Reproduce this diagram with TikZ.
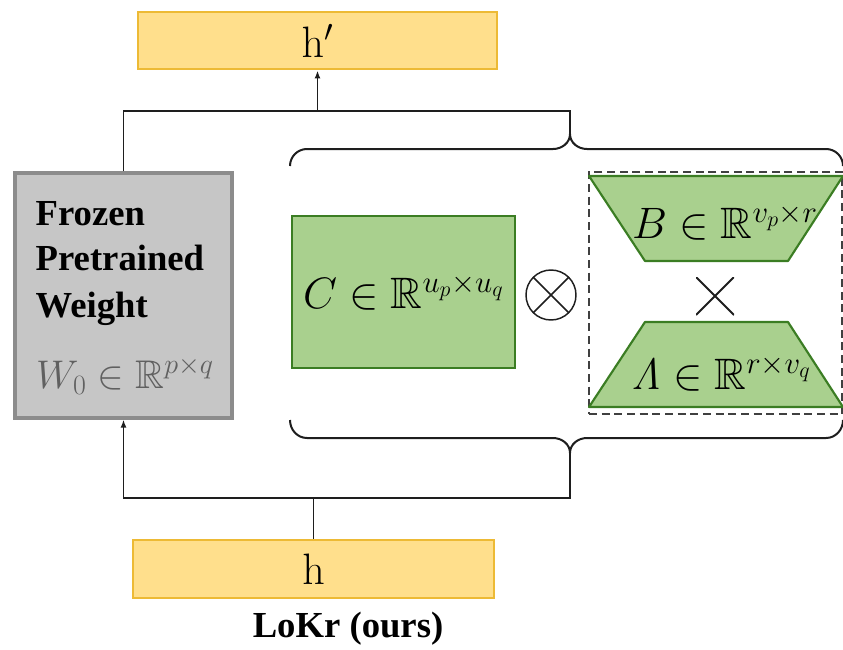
\RequirePackage{fix-cm}
\documentclass[tikz,border=0pt]{standalone}
\usepackage{amsmath,amssymb}
\usepackage[no-math]{fontspec}
\newfontfamily\timesfont{Liberation Serif}
\usetikzlibrary{arrows.meta,fit}

\definecolor{ybFill}{HTML}{FFDF8C}
\definecolor{ybEdge}{HTML}{EDBA35}
\definecolor{grFill}{HTML}{C6C6C6}
\definecolor{grEdge}{HTML}{8C8C8C}
\definecolor{gnFill}{HTML}{A9D08E}
\definecolor{gnEdge}{HTML}{3B7D23}
\definecolor{wire}{HTML}{1E1E1E}
\definecolor{dimtext}{HTML}{606060}

\begin{document}
\begin{tikzpicture}[x=0.75pt,y=-0.75pt,
  mathtxt/.style={font=\fontsize{33}{40}\selectfont},
  boldtxt/.style={font=\timesfont\bfseries\fontsize{27.5}{34}\selectfont},
  yellowbox/.style={draw=ybEdge, fill=ybFill, line width=2.2pt, inner sep=0pt},
  greybox/.style={draw=grEdge, fill=grFill, line width=2.4pt, inner sep=0pt},
  greenbox/.style={draw=gnEdge, fill=gnFill, line width=1.6pt, inner sep=0pt},
  dashbox/.style={draw=wire!85, line width=1.4pt, dash pattern=on 6pt off 3.5pt, inner sep=0pt},
  link/.style={draw=wire, line width=1.4pt},
  tip/.style={-{Latex[length=6pt,width=4.5pt]}},
  bracket/.style={draw=wire, line width=1.5pt},
]
\useasboundingbox (0,0) rectangle (843,650);

% input / output vectors
\node[yellowbox, fit={(138,12) (497,69)}] (hout) {};
\node[mathtxt] (houtText) at (hout.center) {$\mathrm{h}'$};
\node[yellowbox, fit={(133,540) (494,598)}] (hin) {};
\node[mathtxt] (hinText) at (hin.center) {$\mathrm{h}$};
\node[boldtxt, anchor=base] (caption) at (348,637) {LoKr (ours)};

% frozen weight block
\node[greybox, fit={(15,173) (232,418)}] (frozen) {};
\node[boldtxt, anchor=base west] (frozenA) at (31,225) {Frozen};
\node[boldtxt, anchor=base west] (frozenB) at (31,270) {Pretrained};
\node[boldtxt, anchor=base west] (frozenC) at (31,317) {Weight};
\node[font=\fontsize{30}{36}\selectfont, anchor=base, text=dimtext] (wzero) at (125,388) {$W_0\in\mathbb{R}^{p\times q}$};

% Kronecker factor C
\node[greenbox, fit={(292,216) (515,368)}] (Cmat) {};
\node[mathtxt] (CmatText) at (Cmat.center) {$C\in\mathbb{R}^{u_p\times u_q}$};
\node[circle, draw=wire, line width=1.1pt, minimum size=37.5pt, inner sep=0pt,
  path picture={\draw[wire, line width=1.1pt]
    (path picture bounding box.north west) -- (path picture bounding box.south east)
    (path picture bounding box.south west) -- (path picture bounding box.north east);}]
  (kron) at (551,295) {};

% low-rank factor B x A
\node[dashbox, fit={(589,172) (842,414)}] (lowrank) {};
\path[draw=gnEdge, fill=gnFill, line width=1.6pt, line join=round]
  (589,176) -- (843,176) -- (788,261) -- (645,261) -- cycle;
\path[draw=gnEdge, fill=gnFill, line width=1.6pt, line join=round]
  (645,322) -- (788,322) -- (843,407) -- (589,407) -- cycle;
\node[mathtxt, anchor=base] (Bmat) at (725,238) {$B\in\mathbb{R}^{v_p\times r}$};
\node[mathtxt, anchor=base] (Amat) at (721,389) {$\mathit{\Lambda}\in\mathbb{R}^{r\times v_q}$};
\node[minimum size=28.5pt, inner sep=0pt,
  path picture={\draw[wire, line width=1.5pt]
    (path picture bounding box.north west) -- (path picture bounding box.south east)
    (path picture bounding box.south west) -- (path picture bounding box.north east);}]
  (prod) at (715,296) {};

% braces round the update
\path[bracket] (290,166) to[out=90,in=180] (307,149) -- (553,149)
  to[out=0,in=-90] (570,134) to[out=-90,in=180] (587,149) -- (826,149)
  to[out=0,in=90] (843,166);
\path[bracket] (290,420) to[out=-90,in=180] (307,438) -- (553,438)
  to[out=0,in=90] (570,453) to[out=90,in=180] (587,438) -- (826,438)
  to[out=0,in=-90] (843,420);
\coordinate (topTip) at (570,134);
\coordinate (botTip) at (570,453);

% wiring
\coordinate (rowTop) at (0,111);
\coordinate (rowBot) at (0,498);
\coordinate (topJoin) at (hout.south |- rowTop);
\coordinate (botJoin) at (hin.north |- rowBot);
\path[link] (frozen.north) |- (topJoin) -| (topTip);
\path[link, tip] (topJoin) -- (hout.south);
\path[link] (hin.north) -- (botJoin);
\path[link, tip] (botJoin) -| (frozen.south);
\path[link] (botJoin) -| (botTip);
\end{tikzpicture}
\end{document}
